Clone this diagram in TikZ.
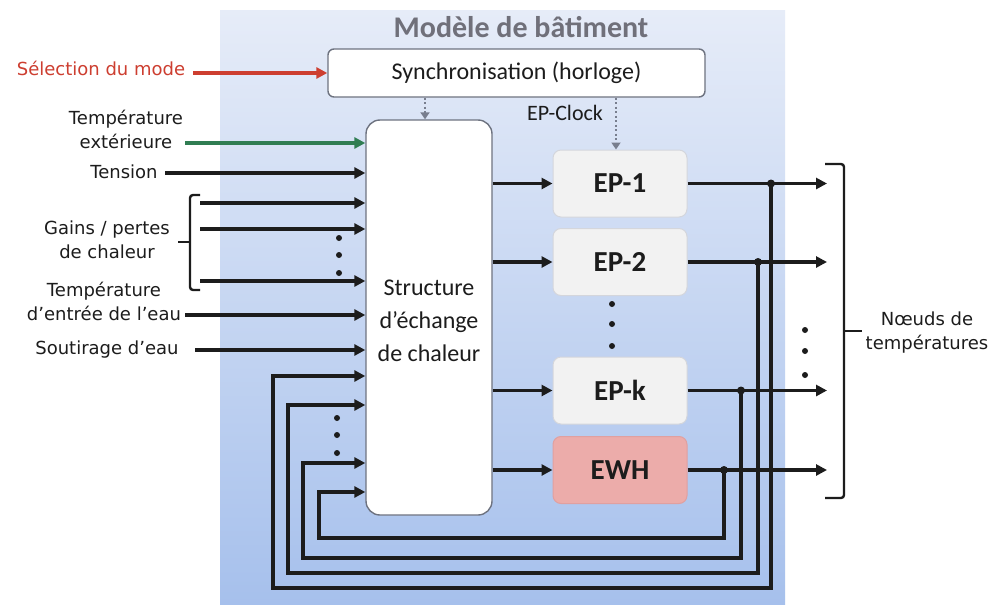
\documentclass[tikz,border=0pt]{standalone}
\usepackage{fontspec}
\setmainfont{DejaVu Sans}
\newfontfamily\calibrifont{Carlito}
\usetikzlibrary{arrows.meta,calc}
\definecolor{bgtop}{RGB}{230,236,248}
\definecolor{bgbot}{RGB}{166,192,236}
\definecolor{txt}{RGB}{28,28,28}
\definecolor{ttl}{RGB}{112,112,122}
\definecolor{redc}{RGB}{205,62,48}
\definecolor{grnc}{RGB}{48,125,82}
\definecolor{dotc}{RGB}{120,126,142}
\definecolor{boxb}{RGB}{110,115,128}
\definecolor{epf}{RGB}{242,242,242}
\definecolor{epb}{RGB}{212,214,220}
\definecolor{ewhf}{RGB}{236,172,170}
\definecolor{ewhb}{RGB}{224,160,160}
\begin{document}
\begin{tikzpicture}[x=1pt,y=-1pt,
  lbl/.style={font=\fontsize{18}{24}\selectfont, text=txt, align=center, inner sep=0pt},
  arr/.style={line width=3.2pt, draw=txt, -{Triangle[length=11pt,width=11pt]}},
  dotarr/.style={line width=2.4pt, draw=dotc, dash pattern=on 2pt off 2.5pt, -{Triangle[length=7pt,width=9pt]}},
  brk/.style={line width=2.4pt, draw=txt, rounded corners=3pt},
  epbox/.style={draw=epb, fill=epf, rounded corners=8pt, line width=1pt,
     minimum width=134pt, minimum height=67pt, inner sep=0pt,
     font=\calibrifont\bfseries\fontsize{29}{30}\selectfont, text=txt},
  jdot/.style={fill=txt}]
\useasboundingbox (0,0) rectangle (994,605);
\fill[white] (0,0) rectangle (994,605);
% panel
\shade[top color=bgtop, bottom color=bgbot] (220,10) rectangle (785,605);
\node[font=\calibrifont\bfseries\fontsize{30}{32}\selectfont, text=ttl, inner sep=0pt] (title) at (521,27) {Modèle de bâtiment};
% boxes
\node[draw=boxb, fill=white, rounded corners=6pt, line width=1.4pt, minimum width=377pt, minimum height=48pt, inner sep=0pt,
      font=\calibrifont\fontsize{24}{26}\selectfont, text=txt] (sync) at (516.5,73) {Synchronisation (horloge)};
\node[draw=boxb, fill=white, rounded corners=14pt, line width=1.4pt, minimum width=126pt, minimum height=395pt, inner sep=0pt,
      font=\calibrifont\fontsize{24}{33}\selectfont, text=txt, align=center] (hx) at (429,317.5) {\strut Structure\\d’échange\\de chaleur};
\node[epbox] (ep1) at (620,183.5) {EP-1};
\node[epbox] (ep2) at (620,262) {EP-2};
\node[epbox] (epk) at (620,390.5) {EP-k};
\node[epbox, draw=ewhb, fill=ewhf] (ewh) at (620,470) {EWH};
% dotted clock arrows
\coordinate (d1) at (425,0);
\coordinate (d2) at (616,0);
\draw[dotarr] (sync.south -| d1) -- (hx.north -| d1);
\draw[dotarr] (sync.south -| d2) -- (ep1.north -| d2);
\node[font=\calibrifont\fontsize{22}{24}\selectfont, text=txt, inner sep=0pt] (clk) at (565,113) {EP-Clock};
% left labels
\node[lbl, text=redc] (sel) at (101,68) {Sélection du mode};
\node[lbl] (text) at (126,129) {Température\\extérieure};
\node[lbl] (tension) at (124,172) {Tension};
\node[lbl] (gains) at (107,240) {Gains / pertes\\de chaleur};
\node[lbl] (tein) at (104,301) {Température\\d’entrée de l’eau};
\node[lbl] (sout) at (107,350) {Soutirage d’eau};
% input arrows
\coordinate (rs) at (193,73);
\draw[arr, draw=redc] (rs) -- (rs -| sync.west);
\coordinate (te) at (185,143);
\draw[arr, draw=grnc] (te) -- (te -| hx.west);
\coordinate (tn) at (165,173);
\draw[arr] (tn) -- (tn -| hx.west);
\coordinate (g1) at (200,203);
\coordinate (g2) at (200,229);
\coordinate (g3) at (200,281);
\draw[arr] (g1) -- (g1 -| hx.west);
\draw[arr] (g2) -- (g2 -| hx.west);
\draw[arr] (g3) -- (g3 -| hx.west);
\coordinate (we) at (185,315);
\draw[arr] (we) -- (we -| hx.west);
\coordinate (so) at (195,350);
\draw[arr] (so) -- (so -| hx.west);
% left bracket
\draw[brk] (200,195) -- (190,195) -- (190,290) -- (200,290);
\draw[brk] (190,242) -- (178,242);
% dots
\foreach \yy in {238,255,273} \fill[txt] (339,\yy) circle (3pt);
\foreach \yy in {418,435,453} \fill[txt] (337,\yy) circle (3pt);
\foreach \yy in {304,324,346} \fill[txt] (612,\yy) circle (3pt);
\foreach \yy in {330,351,375} \fill[txt] (805,\yy) circle (3pt);
% structure -> EP arrows
\draw[arr] (hx.east |- ep1.west) -- (ep1.west);
\draw[arr] (hx.east |- ep2.west) -- (ep2.west);
\draw[arr] (hx.east |- epk.west) -- (epk.west);
\draw[arr] (hx.east |- ewh.west) -- (ewh.west);
% feedback loops
\coordinate (x1) at (771,0); \coordinate (c1) at (273,588); \coordinate (a1) at (0,376);
\coordinate (x2) at (758,0); \coordinate (c2) at (288,573); \coordinate (a2) at (0,405);
\coordinate (x3) at (741,0); \coordinate (c3) at (303,558); \coordinate (a3) at (0,463);
\coordinate (x4) at (724,0); \coordinate (c4) at (319,538); \coordinate (a4) at (0,492);
\coordinate (j1) at (ep1.east -| x1);
\coordinate (j2) at (ep2.east -| x2);
\coordinate (j3) at (epk.east -| x3);
\coordinate (j4) at (ewh.east -| x4);
\draw[arr] (j1) |- (c1) |- (hx.west |- a1);
\draw[arr] (j2) |- (c2) |- (hx.west |- a2);
\draw[arr] (j3) |- (c3) |- (hx.west |- a3);
\draw[arr] (j4) |- (c4) |- (hx.west |- a4);
% outputs
\coordinate (outx) at (827,0);
\draw[arr] (ep1.east) -- (ep1.east -| outx);
\draw[arr] (ep2.east) -- (ep2.east -| outx);
\draw[arr] (epk.east) -- (epk.east -| outx);
\draw[arr] (ewh.east) -- (ewh.east -| outx);
\foreach \j in {j1,j2,j3,j4} \fill[txt] (\j) circle (4pt);
% right bracket
\draw[brk] (825,164) -- (844,164) -- (844,498) -- (825,498);
\draw[brk] (844,331) -- (862,331);
\node[lbl] (nodes) at (927,333) {Nœuds de\\températures};
\end{tikzpicture}
\end{document}
